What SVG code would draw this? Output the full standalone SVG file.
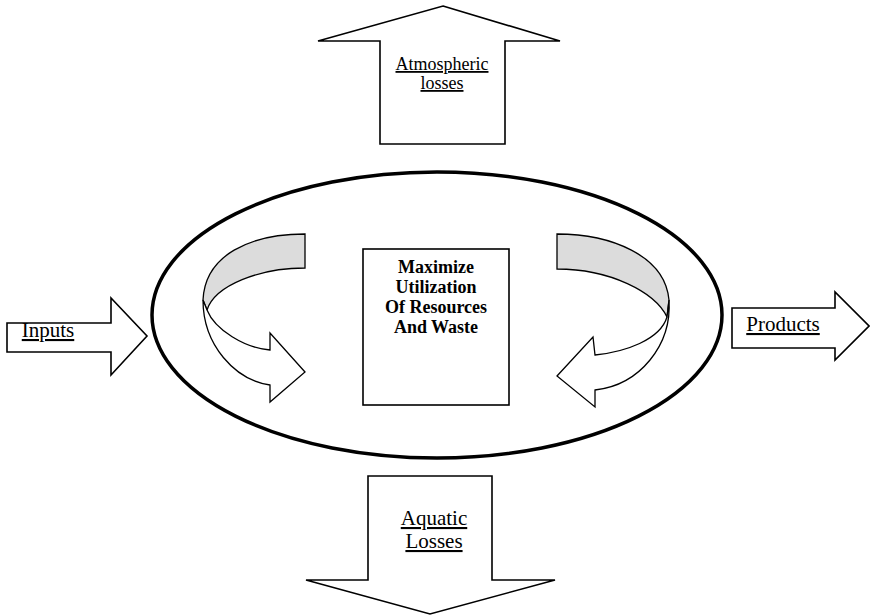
<svg xmlns="http://www.w3.org/2000/svg" width="870" height="616" viewBox="0 0 870 616">
<style>
.ar{fill:#fff;stroke:#000;stroke-width:1.6;stroke-linejoin:miter}
.band{fill:#dcdcdc;stroke:#000;stroke-width:1.3}
.wb{fill:#fff;stroke:#000;stroke-width:1.3;stroke-linejoin:miter}
.t{font-family:"Liberation Serif","Times New Roman",serif;fill:#000;text-anchor:middle;text-decoration:underline}
.b{font-family:"Liberation Serif","Times New Roman",serif;font-weight:bold;font-size:18px;fill:#000;text-anchor:middle}
</style>
<rect width="870" height="616" fill="#fff"/>
<g id="atmospheric">
<polygon class="ar" points="443,6 560,41 505,41 505,144 380,144 380,41 318,41"/>
<text class="t" x="442" y="70" font-size="18">Atmospheric</text>
<text class="t" x="442" y="89" font-size="18">losses</text>
</g>
<g id="system">
<ellipse cx="437" cy="315" rx="285" ry="143" fill="none" stroke="#000" stroke-width="3.5"/>
</g>
<g id="aquatic">
<polygon class="ar" points="368,476 492,476 492,580 555,580 430,614 306,580 368,580"/>
<text class="t" x="434" y="525" font-size="21">Aquatic</text>
<text class="t" x="434" y="548" font-size="21">Losses</text>
</g>
<g id="inputs">
<polygon class="ar" points="7,323 111,323 111,298 147,336 111,375 111,352 7,352"/>
<text class="t" x="48" y="337" font-size="21">Inputs</text>
</g>
<g id="products">
<polygon class="ar" points="732,308 835,308 835,292 869,326 835,360 835,348 732,348"/>
<text class="t" x="783" y="331" font-size="21">Products</text>
</g>
<g id="center">
<rect x="363" y="249" width="146" height="156" fill="#fff" stroke="#000" stroke-width="1.6"/>
<text class="b" x="436" y="273">Maximize</text>
<text class="b" x="436" y="293">Utilization</text>
<text class="b" x="436" y="313">Of Resources</text>
<text class="b" x="436" y="333">And Waste</text>
</g>
<g id="connectors">
<g id="cycle-left">
<path class="band" d="M305,234 C250,234 205,255 203,300 L207,310 C215,285 260,268 305,268 Z"/>
<path class="wb" d="M203,300 C203,345 235,380 270,385 L270,402 L305,372 L270,333 L270,350 C245,348 215,330 207,310 Z"/>
</g>
<g id="cycle-right">
<path class="band" d="M557,234 C610,234 665,255 669,300 L667,317 C655,292 610,269 557,269 Z"/>
<path class="wb" d="M669,300 C672,345 640,385 595,390 L595,407 L557,376 L593,337 L595,355 C625,352 660,340 667,317 Z"/>
</g>
</g>
</svg>
